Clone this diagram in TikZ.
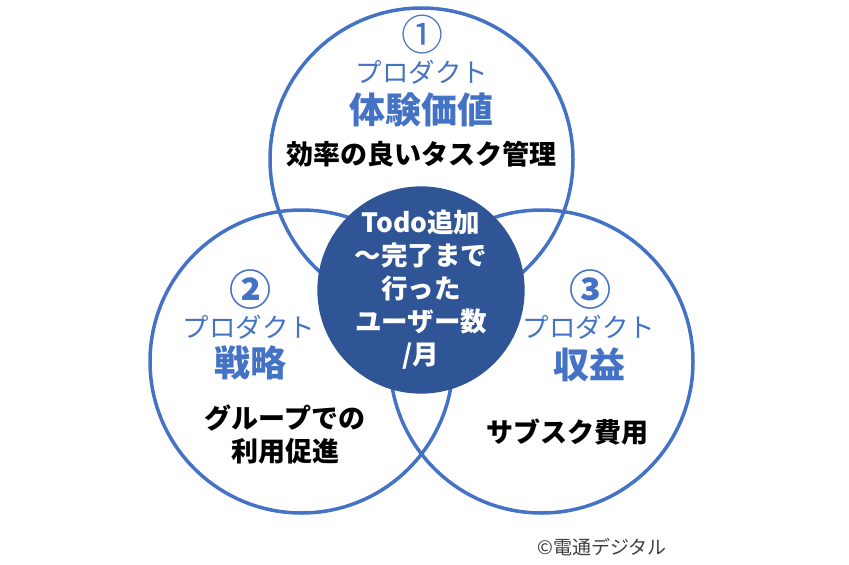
\documentclass[tikz,border=0pt]{standalone}
\usepackage{fontspec}
\setmainfont{Noto Sans CJK JP}
\definecolor{ringblue}{HTML}{4472C4}
\definecolor{darkblue}{HTML}{2F5597}
\definecolor{copygray}{HTML}{404040}
\tikzset{
  ring/.style={circle, draw=ringblue, line width=3.5pt, minimum size=303pt, inner sep=0pt},
  hub/.style={circle, fill=darkblue, minimum size=206pt, inner sep=0pt, text=white, align=center,
    font=\bfseries\fontsize{26.5}{33}\selectfont},
  num/.style={text=ringblue, inner sep=0pt, font=\fontsize{42}{42}\selectfont},
  boldnum/.style={num, font=\bfseries\fontsize{42}{42}\selectfont},
  prod/.style={text=ringblue, inner sep=0pt, font=\fontsize{26.5}{26.5}\selectfont},
  title/.style={text=ringblue, inner sep=0pt, font=\bfseries\fontsize{36}{36}\selectfont},
  body/.style={text=black, inner sep=0pt, align=center, font=\bfseries\fontsize{27}{33}\selectfont},
  copy/.style={text=copygray, inner sep=0pt, font=\fontsize{19}{19}\selectfont}
}
\begin{document}
\begin{tikzpicture}[x=1pt,y=-1pt]
\useasboundingbox[fill=white] (0,0) rectangle (849,565);
\node[ring] (top) at (421.5,159.5) {};
\node[ring] (left) at (301.5,361.5) {};
\node[ring] (right) at (541.5,361.5) {};
\node[hub] (hub) at (421,290) {Todo追加\\～完了まで\\行った\\ユーザー数\\/月};
% top
\node[num] (n1) at (422,35) {①};
\node[prod] (p1) at (422,72) {プロダクト};
\node[title] (t1) at (421,110) {体験価値};
\node[body] (b1) at (421,154) {効率の良いタスク管理};
% left
\node[boldnum] (n2) at (250,290) {②};
\node[prod] (p2) at (249,327) {プロダクト};
\node[title] (t2) at (250,363) {戦略};
\node[body] (b2) at (285,435) {グループでの\\利用促進};
% right
\node[boldnum] (n3) at (590,290) {③};
\node[prod] (p3) at (589,327) {プロダクト};
\node[title] (t3) at (589,365) {収益};
\node[body] (b3) at (567,432) {サブスク費用};
\node[copy] (c) at (602,547) {©電通デジタル};
\end{tikzpicture}
\end{document}
